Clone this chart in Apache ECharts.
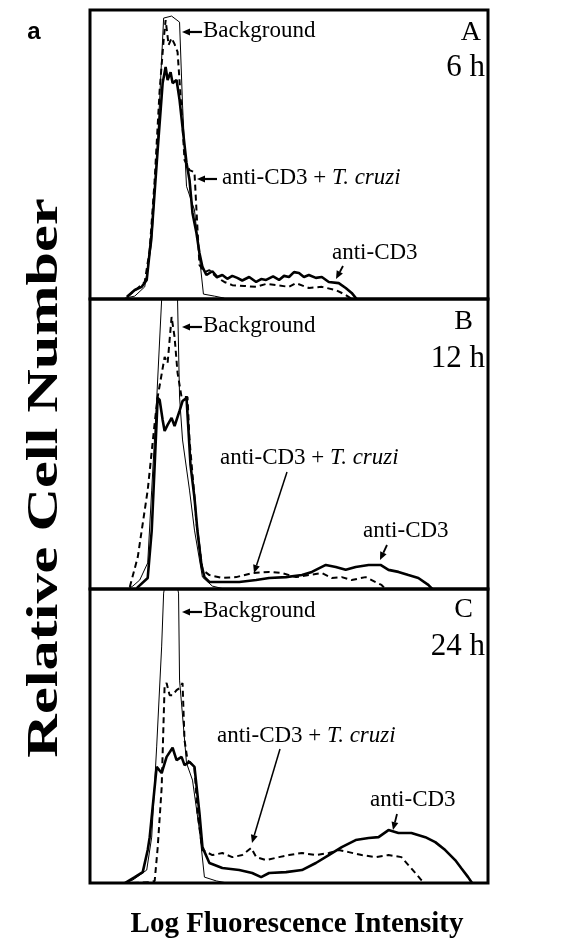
<!DOCTYPE html>
<html>
<head>
<meta charset="utf-8">
<script src="https://cdn.jsdelivr.net/npm/echarts@6/dist/echarts.min.js"></script>
<style>
html,body{margin:0;padding:0;background:#fff}
#main{width:580px;height:947px}
</style>
</head>
<body>
<div id="main"></div>
<script>
// x: log fluorescence channel (0-400), y: relative cell number (0-100 in each panel)

// A, 6 h
var bgA = [[35,0.3],[45,1],[55,4.2],[62,19.4],[68,55],[74,97.2],[82,97.9],[90,95.8],[93,67.1],[97,39],[105,30.8],[114,1.7],[125,1],[135,0.3]];
var cd3A = [[37,0.7],[45,3.1],[52,4.2],[57,6.6],[62,22.8],[68,51.6],[73,74.7],[76,80.3],[78,75.8],[81,78.5],[83,74.7],[87,75.8],[90,68.9],[93,59.5],[97,47.1],[100,41.2],[103,29.8],[107,22.8],[110,15.9],[113,11.1],[117,8.3],[123,9.6],[128,7.6],[133,8.3],[138,7.0],[143,8.0],[148,7.3],[153,6.4],[160,7.6],[167,5.9],[172,6.9],[177,6.6],[184,7.8],[190,6.6],[195,8.0],[200,7.6],[205,9.3],[210,9.0],[215,7.6],[220,8.3],[227,7.3],[233,7.6],[240,5.9],[250,5.5],[257,3.8],[263,2.1],[268,0]];
var tcA = [[38,1],[47,3.5],[55,5.9],[60,17],[65,41.2],[70,72.3],[74,89.6],[76,96.5],[79,87.9],[82,90.3],[85,88.2],[88,85.5],[92,65.4],[95,48.1],[100,44.6],[105,43.9],[107,30.8],[110,11.8],[115,9.3],[120,10],[127,7.6],[135,5.9],[143,4.8],[155,4.5],[167,4.2],[177,5.2],[187,4.8],[200,4.2],[207,5.5],[220,3.8],[233,4.2],[247,3.1],[257,1.4],[263,0]];

// B, 12 h
var bgB = [[38,0],[43,1],[50,3.1],[58,9],[62,34.1],[67,65.2],[72,99.7],[80,123.8],[88,99.7],[90,66.2],[93,51.4],[100,34.1],[105,20.3],[113,4.1],[123,1],[135,0]];
var cd3B = [[47,0.3],[58,3.8],[62,20],[65,42.8],[68,65.9],[70,65.2],[73,58.3],[75,54.5],[78,56.6],[82,59],[85,56.2],[90,61.4],[93,64.8],[97,65.9],[99,54.5],[101,42.8],[105,31.4],[108,20],[112,8.3],[115,4.1],[120,2.4],[133,2.4],[150,2.4],[167,3.1],[180,3.8],[197,4.1],[213,4.8],[223,5.9],[237,8.3],[247,7.6],[257,6.6],[267,7.6],[280,8.3],[292,8.3],[300,6.6],[310,5.9],[320,4.8],[330,3.8],[340,1.4],[344,0]];
var tcB = [[40,0.7],[48,11],[58,34.1],[65,57.2],[68,66.2],[75,80],[78,77.9],[82,93.8],[85,86.9],[88,74.5],[92,66.2],[98,66.2],[100,51.4],[105,31.7],[107,22.8],[113,6.6],[120,4.8],[133,3.8],[147,4.1],[163,5.5],[180,5.9],[193,5.5],[207,4.1],[220,4.8],[233,5.5],[243,3.8],[253,4.1],[263,3.1],[277,4.1],[287,2.4],[293,1.4],[297,0]];

// C, 24 h
var bgC = [[38,0.3],[43,1],[57,4.4],[62,15.6],[67,46.3],[72,80.3],[74,98.6],[81,111.6],[89,98.6],[90,69],[97,40.8],[103,35],[110,18],[115,2],[127,0.7],[138,0]];
var cd3C = [[35,0],[45,2],[53,3.7],[58,11.2],[60,15.6],[67,39.5],[72,37.4],[77,42.9],[83,46],[87,41.8],[92,42.9],[95,40.1],[100,41.2],[105,39.5],[110,23.8],[113,12.2],[120,6.8],[133,5.1],[150,4.4],[163,3.4],[172,2],[180,3.4],[197,3.7],[213,4.4],[227,6.8],[240,9.5],[253,12.2],[267,14.6],[280,15.3],[290,15.6],[300,18],[310,17],[323,17],[337,15.6],[347,13.9],[357,11.2],[367,7.8],[373,5.1],[380,2],[384,0]];
var tcC = [[43,0],[60,0.3],[65,0.7],[68,11.9],[72,32.3],[75,67.3],[77,68],[80,63.9],[83,63.9],[87,65.6],[90,66.3],[93,68],[95,48.6],[98,41.8],[105,39.5],[108,23.8],[113,11.2],[123,9.5],[133,10.2],[143,8.8],[153,9.5],[162,11.9],[167,8.8],[177,7.8],[190,8.8],[200,9.5],[213,10.2],[227,9.5],[240,10.2],[250,11.2],[260,10.5],[273,9.5],[287,8.8],[300,9.5],[313,8.8],[320,6.1],[327,3.4],[333,1],[337,0]];

var panelLetters = ['A', 'B', 'C'];
var panelTimes = ['6 h', '12 h', '24 h'];
var bgSeries = [bgA, bgB, bgC];
var cd3Series = [cd3A, cd3B, cd3C];
var tcSeries = [tcA, tcB, tcC];

var serif = '"Liberation Serif", "Times New Roman", serif';
var panelTops = [10, 299, 589];
var panelHeights = [289, 290, 294];

var chart = echarts.init(document.getElementById('main'), null, {renderer: 'canvas'});

var grids = [], xAxes = [], yAxes = [], series = [];
for (var i = 0; i < 3; i++) {
  grids.push({
    left: 90, width: 398, top: panelTops[i], height: panelHeights[i],
    show: true, borderColor: '#000', borderWidth: 3, backgroundColor: 'transparent'
  });
  xAxes.push({
    type: 'value', gridIndex: i, min: 0, max: 400,
    axisLine: {show: false}, axisTick: {show: false}, axisLabel: {show: false}, splitLine: {show: false}
  });
  yAxes.push({
    type: 'value', gridIndex: i, min: 0, max: 100,
    axisLine: {show: false}, axisTick: {show: false}, axisLabel: {show: false}, splitLine: {show: false}
  });
  series.push({
    name: 'Background', type: 'line', xAxisIndex: i, yAxisIndex: i,
    data: bgSeries[i], showSymbol: false, clip: true,
    lineStyle: {color: '#000', width: 1}
  });
  series.push({
    name: 'anti-CD3 + T. cruzi', type: 'line', xAxisIndex: i, yAxisIndex: i,
    data: tcSeries[i], showSymbol: false, clip: true,
    lineStyle: {color: '#000', width: 2, type: [6, 4]}
  });
  series.push({
    name: 'anti-CD3', type: 'line', xAxisIndex: i, yAxisIndex: i,
    data: cd3Series[i], showSymbol: false, clip: true,
    lineStyle: {color: '#000', width: 2.6}
  });
}

function arrow(x1, y1, x2, y2, w) {
  var dx = x2 - x1, dy = y2 - y1;
  var len = Math.sqrt(dx * dx + dy * dy);
  var ux = dx / len, uy = dy / len;
  var hl = 8, hw = 3.5;
  var bx = x2 - ux * hl, by = y2 - uy * hl;
  return [
    {type: 'line', shape: {x1: x1, y1: y1, x2: bx, y2: by}, style: {stroke: '#000', lineWidth: w}},
    {type: 'polygon', shape: {points: [[x2, y2], [bx - uy * hw, by + ux * hw], [bx + uy * hw, by - ux * hw]]}, style: {fill: '#000'}}
  ];
}

function label(txt, x, y, size, align, extra) {
  var st = {text: txt, x: 0, y: 0, fill: '#000', fontFamily: serif, fontSize: size,
    textAlign: align || 'left', textVerticalAlign: 'middle'};
  if (extra) for (var k in extra) st[k] = extra[k];
  return {type: 'text', x: x, y: y, style: st};
}

function tcLabel(x, y) {
  return {
    type: 'text', x: x, y: y,
    style: {
      text: '{n|anti-CD3 + }{i|T. cruzi}', textVerticalAlign: 'middle',
      rich: {
        n: {fontFamily: serif, fontSize: 23, fill: '#000'},
        i: {fontFamily: serif, fontSize: 23, fontStyle: 'italic', fill: '#000'}
      }
    }
  };
}

var graphics = [];
// panel letters and times
graphics.push(label('A', 481, 33, 28, 'right'));
graphics.push(label('6 h', 485, 68, 31, 'right'));
graphics.push(label('B', 473, 322, 28, 'right'));
graphics.push(label('12 h', 485, 359, 31, 'right'));
graphics.push(label('C', 473, 610, 28, 'right'));
graphics.push(label('24 h', 485, 647, 31, 'right'));

// Background annotations
var bgLabelY = [31, 326, 611];
for (var j = 0; j < 3; j++) {
  graphics.push(label('Background', 203, bgLabelY[j], 23, 'left'));
  graphics = graphics.concat(arrow(202, bgLabelY[j] + 1, 182, bgLabelY[j] + 1, 2.2));
}

// anti-CD3 + T. cruzi annotations
graphics.push(tcLabel(222, 178));
graphics = graphics.concat(arrow(217, 179, 197, 179, 2.2));
graphics.push(tcLabel(220, 458));
graphics = graphics.concat(arrow(287, 472, 254, 573, 1.5));
graphics.push(tcLabel(217, 736));
graphics = graphics.concat(arrow(280, 749, 252, 843, 1.5));

// anti-CD3 annotations
graphics.push(label('anti-CD3', 332, 253, 23, 'left'));
graphics = graphics.concat(arrow(343, 266, 336, 279, 1.8));
graphics.push(label('anti-CD3', 363, 531, 23, 'left'));
graphics = graphics.concat(arrow(387, 545, 380, 560, 1.8));
graphics.push(label('anti-CD3', 370, 800, 23, 'left'));
graphics = graphics.concat(arrow(397, 814, 393, 830, 1.8));

// axis titles and panel tag
graphics.push({
  type: 'text', x: 45, y: 478, rotation: Math.PI / 2, scaleX: 1.34,
  style: {text: 'Relative Cell Number', fill: '#000', fontFamily: serif, fontSize: 45, fontWeight: 'bold',
    textAlign: 'center', textVerticalAlign: 'middle'}
});
graphics.push(label('Log Fluorescence Intensity', 297, 925, 29, 'center', {fontWeight: 'bold'}));
graphics.push({
  type: 'text', x: 34, y: 32,
  style: {text: 'a', fill: '#000', fontFamily: '"Liberation Sans", Arial, sans-serif', fontSize: 24, fontWeight: 'bold',
    textAlign: 'center', textVerticalAlign: 'middle'}
});

chart.setOption({
  animation: false,
  backgroundColor: '#fff',
  grid: grids,
  xAxis: xAxes,
  yAxis: yAxes,
  series: series,
  graphic: graphics
});
</script>
</body>
</html>
